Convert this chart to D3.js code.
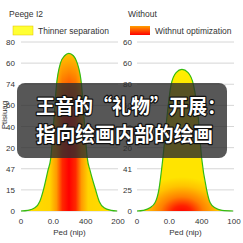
<!DOCTYPE html>
<html><head><meta charset="utf-8">
<script src="https://cdn.jsdelivr.net/npm/d3@7"></script>
<style>html,body{margin:0;padding:0;background:#fff;}svg{display:block;}</style>
</head><body>
<svg id="c" width="243" height="243"></svg>
<script>
// ---- data ----
const panelTitles = ["Peege I2", "Without"];
const legendLabels = ["Thinner separation", "Withnut optimization"];
const yTickValues = [0, 10, 20, 30, 40, 50, 60, 70, 80];
const yTickLabelsLeft = ["0", "15", "47", "20", "40", "60", "74", "60", "80"];
const yTickLabelsRight = ["0", "25", "41", "20", "40", "60", "80", "60", "60"];
const xTickValues = [0, 100, 200, 300];
const xTickLabelsLeft = ["0", "0.0", "400", "200"];
const xTickLabelsRight = ["0", "0.0", "400", "100"];
const xTitle = "Ped (nip)";
const yTitle = "Ptisiuag";
const leftX = [0, 21, 43, 58, 70, 83, 92, 101, 110, 122, 135, 148, 162, 174, 187, 196, 205, 214, 230, 242, 257, 279, 297];
const leftY = [0, 0.3, 1.5, 4.5, 10.4, 19, 25, 42, 60, 70, 73.5, 74.6, 73.5, 70, 60, 42, 25, 19, 10.4, 4.5, 1.5, 0.3, 0];
const rightX = [0, 19, 40, 56, 68, 80, 93, 105, 121, 139, 158, 175, 189, 200, 215, 226, 241, 263, 297];
const rightY = [0, 0.3, 1.5, 4, 10.4, 25, 45, 59.5, 65.5, 67, 65.5, 59.5, 45, 25, 10.4, 4, 1.5, 0.3, 0];
const overlayLines = ["王音的“礼物”开展：", "指向绘画内部的绘画"];

const svg = d3.select("#c");
const defs = svg.append("defs");

const hg = defs.append("linearGradient").attr("id", "hg").attr("x1", 0).attr("x2", 1).attr("y1", 0).attr("y2", 0);
[[0, "#ffe000"], [0.3, "#ffd400"], [0.37, "#ff9a00"], [0.43, "#ff2a00"], [0.5, "#ff0000"], [0.57, "#ff2a00"], [0.63, "#ff9a00"], [0.7, "#ffd400"], [1, "#ffe000"]]
  .forEach(([o, c]) => hg.append("stop").attr("offset", o).attr("stop-color", c));
const vg = defs.append("linearGradient").attr("id", "vg").attr("x1", 0).attr("x2", 0).attr("y1", 0).attr("y2", 1);
[[0, "#ffd000", 0.95], [0.12, "#ffc000", 0.7], [0.4, "#ffa000", 0]]
  .forEach(([o, c, a]) => vg.append("stop").attr("offset", o).attr("stop-color", c).attr("stop-opacity", a));
const rg = defs.append("radialGradient").attr("id", "rg").attr("gradientUnits", "userSpaceOnUse")
  .attr("cx", 182).attr("cy", 213).attr("r", 48).attr("gradientTransform", "translate(0,213) scale(1,0.75) translate(0,-213)");
[[0, "#ff0000"], [0.2, "#ff2000"], [0.45, "#ff8000"], [0.75, "#ffc400"], [1, "#ffe400"]]
  .forEach(([o, c]) => rg.append("stop").attr("offset", o).attr("stop-color", c));
const tg = defs.append("linearGradient").attr("id", "tg").attr("x1", 0).attr("x2", 0).attr("y1", 0).attr("y2", 1);
[[0, "#fff000", 0.9], [0.35, "#ffe000", 0.3], [0.6, "#ffd000", 0]]
  .forEach(([o, c, a]) => tg.append("stop").attr("offset", o).attr("stop-color", c).attr("stop-opacity", a));
const lg = defs.append("linearGradient").attr("id", "lg").attr("x1", 0).attr("x2", 0).attr("y1", 0).attr("y2", 1);
[[0, "#ffa000"], [1, "#ff0000"]].forEach(([o, c]) => lg.append("stop").attr("offset", o).attr("stop-color", c));

const y = d3.scaleLinear().domain([0, 80]).range([211, 42]);
const panels = [
  {x0: 21, x1: 118, titleX: 9, legX: 13, labs: yTickLabelsLeft, xl: xTickLabelsLeft, xs: leftX, ys: leftY, fill: "url(#hg)", over: "url(#vg)", sw: "#ffff33", labX: 17},
  {x0: 137, x1: 234, titleX: 128, legX: 130, labs: yTickLabelsRight, xl: xTickLabelsRight, xs: rightX, ys: rightY, fill: "url(#rg)", over: "url(#tg)", sw: "url(#lg)", labX: 134}
];

panels.forEach((p, i) => {
  const x = d3.scaleLinear().domain([0, 300]).range([p.x0, p.x1]);
  const g = svg.append("g");
  g.append("text").attr("x", p.titleX).attr("y", 17).attr("font-family", "Liberation Sans, Arial, sans-serif")
    .attr("font-size", 8.5).attr("fill", "#333").text(panelTitles[i]);
  g.append("rect").attr("x", p.legX).attr("y", 26).attr("width", 20).attr("height", 9).attr("fill", p.sw)
    .attr("stroke", "#e0c000").attr("stroke-width", i === 0 ? 0.5 : 0);
  g.append("text").attr("x", p.legX + 25).attr("y", 33.5).attr("font-family", "Liberation Sans, Arial, sans-serif")
    .attr("font-size", 8.5).attr("fill", "#333").text(legendLabels[i]);
  g.selectAll(".gl").data(yTickValues).join("line")
    .attr("x1", p.x0).attr("x2", p.x1).attr("y1", d => y(d)).attr("y2", d => y(d))
    .attr("stroke", "#cccccc").attr("stroke-width", 0.8);
  g.selectAll(".yl").data(yTickValues).join("text")
    .attr("x", p.labX - 2).attr("y", d => y(d) + 3).attr("text-anchor", "end")
    .attr("font-family", "Liberation Sans, Arial, sans-serif").attr("font-size", 8).attr("fill", "#333")
    .text((d, j) => p.labs[j]);
  g.selectAll(".xl").data(xTickValues).join("text")
    .attr("x", d => x(d)).attr("y", 224).attr("text-anchor", "middle")
    .attr("font-family", "Liberation Sans, Arial, sans-serif").attr("font-size", 8).attr("fill", "#333")
    .text((d, j) => p.xl[j]);
  g.append("text").attr("x", (p.x0 + p.x1) / 2).attr("y", 235).attr("text-anchor", "middle")
    .attr("font-family", "Liberation Sans, Arial, sans-serif").attr("font-size", 8).attr("fill", "#333").text(xTitle);
  const pts = p.xs.map((v, j) => [v, p.ys[j]]);
  const area = d3.area().x(d => x(d[0])).y0(y(0)).y1(d => y(d[1])).curve(d3.curveMonotoneX);
  const line = d3.line().x(d => x(d[0])).y(d => y(d[1])).curve(d3.curveMonotoneX);
  g.append("path").attr("d", area(pts)).attr("fill", p.fill);
  if (p.over) g.append("path").attr("d", area(pts)).attr("fill", p.over);
  g.append("path").attr("d", line(pts)).attr("fill", "none").attr("stroke", "#33bb11").attr("stroke-width", 1.2);
});

svg.append("text").attr("transform", "translate(7,115) rotate(-90)").attr("text-anchor", "middle")
  .attr("font-family", "Liberation Sans, Arial, sans-serif").attr("font-size", 8).attr("fill", "#333").text(yTitle);

svg.append("rect").attr("x", 17).attr("y", 83).attr("width", 210).attr("height", 75).attr("rx", 8)
  .attr("fill", "rgba(45,45,45,0.8)");
const ovW = [190, 177];
svg.selectAll(".ov").data(overlayLines).join("text")
  .attr("x", 36).attr("y", (d, i) => 114 + i * 28)
  .attr("font-family", "Noto Sans CJK SC, sans-serif").attr("font-weight", "bold").attr("font-size", 20)
  .attr("textLength", (d, i) => ovW[i]).attr("lengthAdjust", "spacingAndGlyphs")
  .attr("fill", "#fff").attr("stroke", "#111").attr("stroke-width", 2.5).attr("paint-order", "stroke")
  .attr("stroke-linejoin", "round").text(d => d);
</script>
</body></html>
